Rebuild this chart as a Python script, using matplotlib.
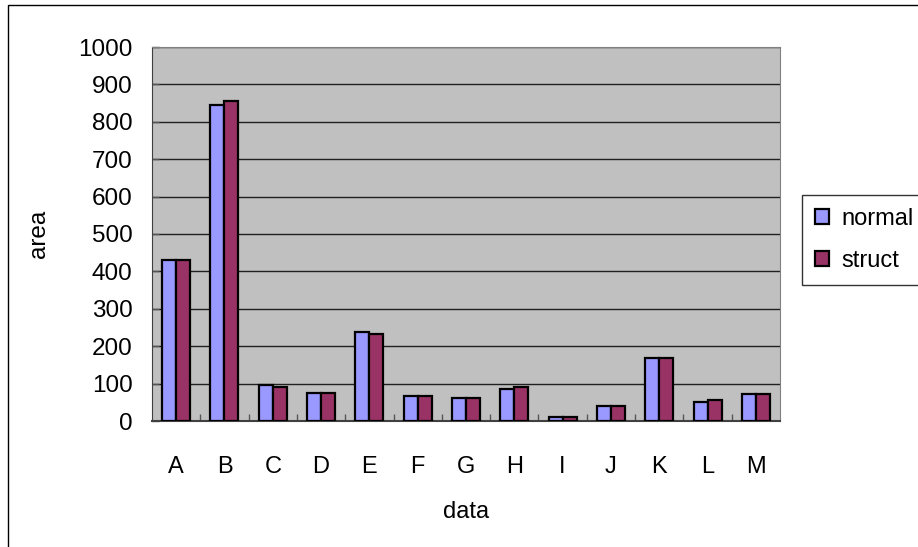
import numpy as np
import matplotlib.pyplot as plt
from matplotlib.patches import Rectangle

categories = ['A', 'B', 'C', 'D', 'E', 'F', 'G', 'H', 'I', 'J', 'K', 'L', 'M']
normal = [431, 846, 95, 74, 238, 68, 62, 86, 11, 40, 169, 52, 73]
struct = [431, 856, 90, 74, 233, 68, 62, 91, 11, 40, 169, 57, 73]

plt.rcParams['font.family'] = ['Liberation Sans', 'DejaVu Sans']

fig = plt.figure(figsize=(9.18, 5.47), dpi=100)
fig.patches.append(Rectangle((8 / 918, -0.1), 1.2, 1.1 - 5 / 547, transform=fig.transFigure,
                             fill=False, edgecolor='black', linewidth=1.0))

ax = fig.add_axes([152 / 918, 1 - 421 / 547, 628 / 918, 374 / 547])
ax.set_facecolor('#C0C0C0')

x = np.arange(len(categories))
w = 0.29
ax.bar(x - w / 2, normal, w, color='#9999FF', edgecolor='black', linewidth=1.6,
       label='normal', zorder=3)
ax.bar(x + w / 2, struct, w, color='#993366', edgecolor='black', linewidth=1.6,
       label='struct', zorder=3)

ax.set_xlim(-0.5, len(categories) - 0.5)
ax.set_ylim(0, 1000)
ax.set_yticks(np.arange(0, 1001, 100))
ax.yaxis.grid(True, color='#202020', linewidth=1.0, zorder=1)
ax.set_axisbelow(True)

ax.set_xticks(x)
ax.set_xticklabels(categories, fontsize=17)
ax.set_xticks(np.arange(0.5, len(categories) - 0.5, 1), minor=True)
ax.tick_params(axis='x', which='major', length=0, pad=25)
ax.tick_params(axis='x', which='minor', direction='in', length=5, width=1, color='#555555')
ax.tick_params(axis='y', direction='in', length=5, width=1, color='#555555', labelsize=17.5, pad=14)

for s in ['top', 'right']:
    ax.spines[s].set_color('#808080')
ax.spines['left'].set_color('#404040')
ax.spines['bottom'].set_color('#404040')
ax.spines['bottom'].set_linewidth(1.5)

ax.set_xlabel('data', fontsize=17, labelpad=17)
ax.set_ylabel('area', fontsize=17.5, labelpad=20)

leg = ax.legend(loc='upper left', bbox_to_anchor=(802 / 918, 1 - 195 / 547),
                bbox_transform=fig.transFigure, fontsize=17, frameon=True,
                fancybox=False, edgecolor='black', handlelength=0.6, handleheight=0.6,
                handletextpad=0.5, borderpad=0.55, labelspacing=0.85, borderaxespad=0)
leg.get_frame().set_linewidth(1.0)

fig.savefig('out.png', dpi=100)
